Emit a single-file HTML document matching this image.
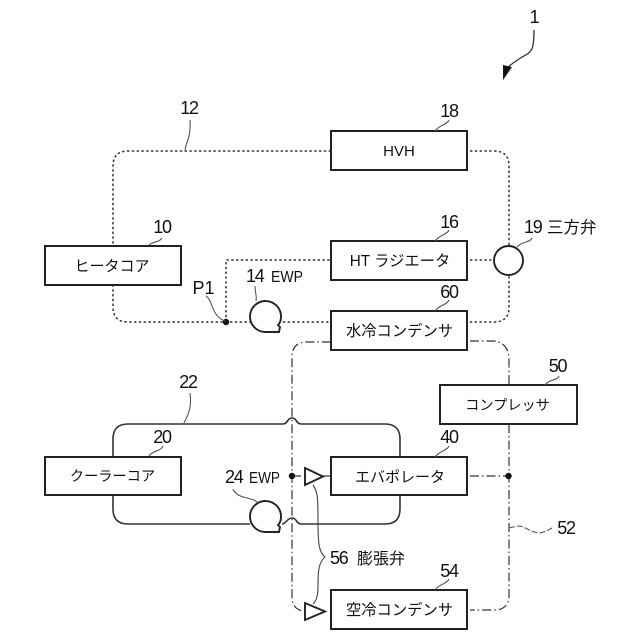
<!DOCTYPE html>
<html>
<head>
<meta charset="utf-8">
<style>
html,body{margin:0;padding:0;background:#fff;}
svg{display:block;}
text{font-family:"Liberation Sans","Noto Sans CJK JP",sans-serif;fill:#111;}
.b{font-size:15px;text-anchor:middle;}
.n{font-size:18px;text-anchor:middle;letter-spacing:-1.2px;}
.m{font-size:18px;letter-spacing:-1.2px;}
.box{fill:#fff;stroke:#222;stroke-width:2;}
.dot{fill:none;stroke:#333;stroke-width:1.5;stroke-dasharray:2.400 2.400;}
.dd{fill:none;stroke:#333;stroke-width:1.200;stroke-dasharray:9 3 1.500 3;}
.sol{fill:none;stroke:#333;stroke-width:1.600;}
.lead{fill:none;stroke:#555;stroke-width:1.100;}
.shape{fill:#fff;stroke:#222;stroke-width:1.900;}
</style>
</head>
<body>
<svg width="640" height="640" viewBox="0 0 640 640" xmlns="http://www.w3.org/2000/svg">
<rect width="640" height="640" fill="#fff"/>

<!-- loop 12 -->
<path class="dot" d="M331 151 H128 Q113 151 113 166 V307 Q113 322 128 322 H331"/>
<path class="dot" d="M470 151 H494 Q509 151 509 166 V307 Q509 322 494 322 H467"/>
<path class="dot" d="M226 322 V260 H331"/>
<path class="dot" d="M470 260 H493"/>

<!-- loop 22 -->
<path class="sol" d="M113 457 V439 Q113 424 128 424 H283 C288 424 287 418 292 418 C297 418 296 424 301 424 H385 Q400 424 400 439 V457"/>
<path class="sol" d="M113 495 V509 Q113 524 128 524 H250 M282 524 C286 524 287 518 292 518 C297 518 296 524 301 524 H385 Q400 524 400 509 V495"/>

<!-- loop 52 -->
<path class="dd" d="M331 342 H307 Q292 342 292 357 V596 Q292 610 304 611"/>
<path class="dd" d="M470 341 H494 Q509 343 509 360 V385"/>
<path class="dd" d="M509 424 V595 Q509 610 494 610 H470"/>
<path class="dd" d="M292 476 H305"/>
<path class="dd" d="M323 476 H331"/>
<path class="dd" d="M470 476 H509"/>

<!-- boxes -->
<rect class="box" x="331" y="131" width="136" height="39"/>
<rect class="box" x="331" y="241" width="136" height="39"/>
<rect class="box" x="331" y="311" width="136" height="39"/>
<rect class="box" x="45" y="246" width="136" height="39"/>
<rect class="box" x="45" y="457" width="136" height="38"/>
<rect class="box" x="440" y="385" width="137" height="39"/>
<rect class="box" x="331" y="457" width="136" height="38"/>
<rect class="box" x="331" y="590" width="136" height="39"/>

<text class="b" x="399" y="156">HVH</text>
<text class="b" x="400" y="266" style="font-size:15.300px">HT ラジエータ</text>
<text class="b" x="399.500" y="336" style="font-size:15.300px">水冷コンデンサ</text>
<text class="b" x="112" y="271">ヒータコア</text>
<text class="b" x="112.500" y="481" style="font-size:14.200px">クーラーコア</text>
<text class="b" x="507.500" y="410" style="font-size:14.200px">コンプレッサ</text>
<text class="b" x="400" y="482">エバポレータ</text>
<text class="b" x="399.500" y="615" style="font-size:15.300px">空冷コンデンサ</text>

<!-- valve, pumps, dots -->
<circle class="shape" cx="508.500" cy="260.500" r="14.500"/>
<path class="shape" d="M279 332 H265 A15.500 15.500 0 1 1 281 317 Q281 322 278 325 L280 327 Z"/>
<path class="shape" d="M279 532 H265 A15.500 15.500 0 1 1 281 517 Q281 522 278 525 L280 527 Z"/>
<circle cx="226" cy="322" r="3.200" fill="#111"/>
<circle cx="292" cy="476" r="3.200" fill="#111"/>
<circle cx="508.500" cy="476" r="3.200" fill="#111"/>
<polygon class="shape" points="305,468 305,485 323,476.500"/>
<polygon class="shape" points="305,603 305,620 325,611.500"/>

<!-- brace 56 -->
<path class="lead" d="M313 485 C318 492 318 500 318 520 C318 545 319 552 325 557 C319 562 318 570 318 585 C318 595 317 600 313 604" style="stroke:#444"/>

<!-- leaders -->
<path class="lead" d="M185 150 C186 142 191 138 190 120"/>
<path class="lead" d="M149 245 C153 241 159 243 162 238"/>
<path class="lead" d="M435 131 C439 125 447 125 449 120"/>
<path class="lead" d="M435 241 C439 235 447 235 449 230"/>
<path class="lead" d="M435 311 C439 305 447 305 449 300"/>
<path class="lead" d="M517 247 C522 241 530 243 532 238"/>
<path class="lead" d="M256 301 C257 296 255 292 255 286"/>
<path class="lead" d="M206 296 C213 300 211 316 225 321"/>
<path class="lead" d="M184 423 C188 415 192 408 190 393"/>
<path class="lead" d="M149 456 C153 450 160 452 163 446"/>
<path class="lead" d="M233 489 C238 500 252 496 258 503"/>
<path class="lead" d="M545 385 C549 379 557 381 559 376"/>
<path class="lead" d="M435 457 C439 451 447 451 449 446"/>
<path class="lead" d="M435 590 C439 584 447 584 449 579"/>
<path class="lead" d="M509 528 C513 527 517 526 520 526 C527 528 533 533 540 533 C545 532 548 530 552 528" stroke-dasharray="6 2"/>

<!-- arrow 1 -->
<path d="M534 30 C534 50 532 52 522 57 C516 61 510 65 507 68" fill="none" stroke="#333" stroke-width="1.300"/>
<polygon points="503,65 512,67 503,80" fill="#111"/>

<!-- labels -->
<text class="n" x="534" y="23">1</text>
<text class="n" x="189" y="114">12</text>
<text class="n" x="449" y="117">18</text>
<text class="n" x="162" y="233">10</text>
<text class="n" x="449" y="228">16</text>
<text class="n" x="449" y="298">60</text>
<text class="m" x="524" y="233">19</text>
<text x="547" y="233" style="font-size:16.500px">三方弁</text>
<text class="m" x="246" y="282">14</text>
<text x="271" y="282" style="font-size:15.500px" textLength="32" lengthAdjust="spacingAndGlyphs">EWP</text>
<text class="n" x="203.500" y="294" style="letter-spacing:0">P1</text>
<text class="n" x="188" y="388">22</text>
<text class="n" x="162" y="443">20</text>
<text class="m" x="225" y="483">24</text>
<text x="249" y="483" style="font-size:15.500px" textLength="31" lengthAdjust="spacingAndGlyphs">EWP</text>
<text class="n" x="557.500" y="372">50</text>
<text class="n" x="449" y="443">40</text>
<text class="n" x="566" y="534">52</text>
<text class="m" x="330" y="564">56</text>
<text x="357" y="564" style="font-size:16px">膨張弁</text>
<text class="n" x="449" y="577">54</text>
</svg>
</body>
</html>
